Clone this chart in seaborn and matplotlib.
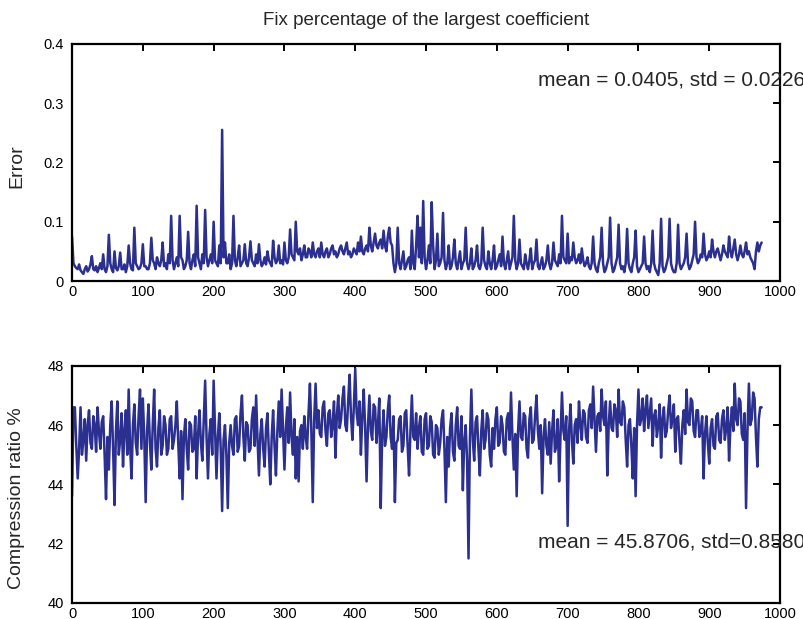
import numpy as np
import pandas as pd
import matplotlib
matplotlib.use("Agg")
import matplotlib.pyplot as plt
import seaborn as sns

# sample index (every 2nd frame)
frames = np.arange(0, 976, 2)

error_vals = [
    0.075, 0.03, 0.025, 0.022, 0.02, 0.028, 0.018, 0.015, 0.012, 0.02, 0.025, 0.016, 0.02, 0.028, 0.042, 0.02, 0.018, 0.025, 0.015, 0.022, 0.03, 0.02, 0.045, 0.02, 0.015,
    0.025, 0.078, 0.03, 0.02, 0.015, 0.05, 0.022, 0.018, 0.025, 0.048, 0.02, 0.02, 0.028, 0.015, 0.025, 0.06, 0.03, 0.02, 0.018, 0.09, 0.03, 0.025, 0.02, 0.022, 0.03,
    0.062, 0.025, 0.025, 0.02, 0.02, 0.03, 0.073, 0.035, 0.03, 0.02, 0.04, 0.03, 0.025, 0.035, 0.065, 0.025, 0.03, 0.02, 0.045, 0.03, 0.11, 0.035, 0.02, 0.03, 0.04,
    0.025, 0.11, 0.04, 0.035, 0.02, 0.025, 0.035, 0.083, 0.03, 0.02, 0.035, 0.045, 0.025, 0.127, 0.04, 0.03, 0.02, 0.045, 0.03, 0.12, 0.04, 0.025, 0.035, 0.045, 0.03,
    0.10, 0.035, 0.03, 0.025, 0.06, 0.03, 0.255, 0.04, 0.065, 0.03, 0.03, 0.045, 0.02, 0.03, 0.11, 0.035, 0.025, 0.04, 0.06, 0.025, 0.03, 0.035, 0.062, 0.03, 0.025,
    0.04, 0.067, 0.035, 0.03, 0.025, 0.045, 0.03, 0.062, 0.035, 0.025, 0.03, 0.04, 0.028, 0.05, 0.035, 0.03, 0.025, 0.068, 0.04, 0.03, 0.035, 0.06, 0.03, 0.035, 0.028,
    0.065, 0.035, 0.03, 0.04, 0.087, 0.045, 0.04, 0.035, 0.10, 0.05, 0.045, 0.055, 0.035, 0.045, 0.06, 0.04, 0.04, 0.055, 0.05, 0.04, 0.065, 0.045, 0.04, 0.05, 0.055,
    0.04, 0.065, 0.045, 0.04, 0.05, 0.055, 0.04, 0.045, 0.055, 0.06, 0.045, 0.05, 0.04, 0.045, 0.055, 0.06, 0.05, 0.045, 0.055, 0.065, 0.045, 0.05, 0.04, 0.045, 0.055,
    0.05, 0.045, 0.065, 0.05, 0.075, 0.05, 0.045, 0.055, 0.06, 0.05, 0.09, 0.06, 0.05, 0.065, 0.08, 0.06, 0.055, 0.065, 0.07, 0.055, 0.085, 0.06, 0.05, 0.075, 0.09,
    0.065, 0.06, 0.03, 0.015, 0.03, 0.09, 0.03, 0.02, 0.035, 0.05, 0.02, 0.025, 0.035, 0.04, 0.02, 0.085, 0.03, 0.02, 0.06, 0.11, 0.04, 0.09, 0.03, 0.135, 0.04,
    0.02, 0.035, 0.06, 0.03, 0.133, 0.06, 0.02, 0.035, 0.08, 0.025, 0.03, 0.04, 0.115, 0.035, 0.02, 0.03, 0.06, 0.02, 0.025, 0.04, 0.07, 0.03, 0.02, 0.035, 0.05,
    0.02, 0.03, 0.035, 0.09, 0.03, 0.02, 0.03, 0.055, 0.02, 0.025, 0.035, 0.06, 0.025, 0.02, 0.03, 0.09, 0.035, 0.025, 0.02, 0.05, 0.03, 0.02, 0.035, 0.06, 0.02,
    0.025, 0.035, 0.045, 0.025, 0.075, 0.03, 0.02, 0.035, 0.05, 0.02, 0.03, 0.04, 0.11, 0.035, 0.02, 0.03, 0.07, 0.03, 0.025, 0.02, 0.045, 0.03, 0.02, 0.035, 0.055,
    0.02, 0.03, 0.035, 0.07, 0.025, 0.02, 0.03, 0.04, 0.02, 0.025, 0.035, 0.06, 0.03, 0.02, 0.03, 0.065, 0.035, 0.03, 0.025, 0.045, 0.03, 0.11, 0.04, 0.035, 0.03,
    0.08, 0.03, 0.04, 0.035, 0.065, 0.04, 0.03, 0.035, 0.045, 0.03, 0.055, 0.035, 0.025, 0.03, 0.04, 0.025, 0.02, 0.03, 0.075, 0.03, 0.02, 0.015, 0.03, 0.04, 0.09,
    0.03, 0.015, 0.02, 0.03, 0.04, 0.107, 0.03, 0.015, 0.02, 0.03, 0.04, 0.095, 0.03, 0.02, 0.025, 0.015, 0.03, 0.088, 0.03, 0.02, 0.015, 0.03, 0.04, 0.085, 0.025,
    0.015, 0.02, 0.025, 0.03, 0.075, 0.03, 0.02, 0.025, 0.015, 0.03, 0.085, 0.03, 0.02, 0.015, 0.01, 0.03, 0.105, 0.025, 0.015, 0.02, 0.03, 0.04, 0.105, 0.03, 0.02,
    0.015, 0.015, 0.03, 0.095, 0.03, 0.02, 0.025, 0.03, 0.04, 0.08, 0.03, 0.02, 0.025, 0.035, 0.045, 0.10, 0.04, 0.03, 0.035, 0.045, 0.04, 0.08, 0.045, 0.035, 0.04,
    0.05, 0.04, 0.07, 0.05, 0.04, 0.05, 0.055, 0.045, 0.035, 0.045, 0.06, 0.05, 0.045, 0.04, 0.075, 0.05, 0.04, 0.055, 0.07, 0.045, 0.035, 0.045, 0.06, 0.045, 0.04,
    0.05, 0.065, 0.045, 0.05, 0.04, 0.035, 0.03, 0.02, 0.05, 0.065, 0.05, 0.06, 0.065,
]

ratio_vals = [
    43.6, 46.6, 46.6, 45.3, 44.2, 45.2, 46.6, 45.0, 45.5, 46.2, 44.8, 46.0, 46.5, 45.4, 45.2, 46.3, 46.0, 45.1, 46.6, 45.8, 45.2, 46.1, 46.3, 45.0, 43.5,
    45.6, 44.5, 46.0, 46.8, 45.2, 43.3, 45.8, 46.8, 45.0, 45.5, 46.4, 44.6, 45.8, 46.5, 45.0, 47.2, 45.3, 44.2, 46.0, 46.7, 45.4, 45.0, 46.3, 47.2, 45.2,
    46.9, 45.6, 43.4, 45.8, 46.7, 45.4, 44.5, 46.0, 47.2, 45.2, 44.6, 45.9, 46.5, 45.0, 45.3, 46.3, 46.0, 45.0, 45.2, 46.2, 46.3, 45.2, 45.5, 46.0, 46.8,
    45.4, 44.2, 45.8, 43.5, 45.6, 46.2, 45.2, 44.5, 46.1, 46.0, 45.1, 45.2, 46.3, 44.2, 45.7, 46.5, 45.4, 44.8, 46.2, 47.5, 45.6, 44.2, 45.7, 46.2, 45.0,
    47.5, 45.8, 44.2, 45.6, 46.4, 45.2, 43.1, 45.5, 46.0, 45.0, 43.2, 45.4, 46.0, 45.3, 45.0, 46.2, 46.3, 45.1, 45.3, 46.4, 47.0, 45.6, 44.8, 46.1, 46.0,
    45.1, 45.2, 46.2, 46.6, 45.3, 47.0, 45.5, 44.3, 45.7, 46.2, 45.2, 44.6, 45.9, 46.4, 45.1, 44.0, 45.6, 46.5, 45.3, 44.3, 45.8, 46.8, 45.6, 47.2, 45.8,
    44.5, 45.9, 46.6, 45.4, 47.1, 45.6, 45.0, 46.2, 44.2, 45.6, 44.1, 45.8, 46.0, 45.2, 46.3, 45.6, 45.2, 46.4, 47.4, 45.8, 43.4, 46.2, 47.4, 45.9, 46.5,
    45.7, 45.6, 46.6, 46.8, 45.8, 45.3, 46.4, 46.5, 45.6, 46.0, 46.8, 44.9, 46.3, 47.0, 45.9, 46.2, 46.9, 47.3, 46.0, 45.8, 46.8, 47.7, 46.3, 45.5, 46.6,
    47.9, 46.4, 46.0, 46.8, 45.0, 46.3, 47.2, 45.9, 44.1, 46.0, 47.0, 45.8, 45.5, 46.7, 46.6, 45.4, 46.0, 46.9, 43.2, 45.6, 46.5, 45.3, 45.6, 46.5, 47.0,
    45.6, 45.2, 46.3, 43.4, 45.4, 45.5, 46.2, 46.3, 45.1, 45.3, 46.4, 46.5, 45.3, 44.3, 45.8, 47.0, 45.6, 45.5, 46.4, 45.2, 45.9, 46.3, 45.1, 45.0, 46.2,
    46.4, 45.2, 45.3, 46.3, 46.1, 45.0, 44.9, 46.0, 45.9, 45.0, 45.4, 46.2, 46.5, 45.2, 43.4, 45.6, 44.6, 45.9, 46.4, 45.1, 44.8, 46.0, 46.6, 45.3, 45.2,
    46.3, 43.8, 45.5, 46.0, 44.8, 41.5, 45.6, 47.2, 45.5, 44.8, 46.1, 46.3, 45.2, 44.3, 45.8, 46.5, 45.2, 45.5, 46.4, 46.2, 45.0, 44.6, 45.9, 45.2, 46.2,
    46.6, 45.3, 45.4, 46.3, 46.0, 45.1, 45.0, 46.2, 46.4, 45.5, 47.1, 45.6, 44.5, 45.7, 43.6, 45.8, 46.8, 45.6, 45.5, 46.4, 46.3, 45.2, 44.9, 46.2, 46.6,
    45.4, 45.5, 46.3, 47.0, 45.8, 45.2, 46.0, 43.7, 45.6, 46.2, 45.3, 45.0, 46.1, 44.7, 45.8, 46.5, 45.1, 45.3, 46.2, 44.1, 45.7, 47.1, 45.8, 45.5, 46.3,
    42.6, 45.8, 46.7, 45.5, 44.7, 46.0, 46.2, 45.4, 46.8, 46.0, 45.5, 46.5, 46.4, 45.6, 45.4, 46.5, 46.7, 45.9, 47.3, 46.2, 45.1, 46.3, 46.4, 45.8, 47.2,
    46.3, 46.0, 46.8, 44.3, 46.0, 46.8, 45.9, 45.8, 46.7, 46.5, 45.6, 47.2, 46.1, 46.0, 46.8, 46.6, 45.5, 44.6, 46.0, 46.2, 45.3, 44.2, 45.9, 43.6, 46.0,
    47.2, 46.0, 46.2, 46.9, 45.8, 46.5, 47.0, 45.9, 46.4, 46.9, 45.3, 46.3, 46.5, 45.6, 46.0, 46.7, 44.9, 46.2, 46.6, 45.6, 45.8, 46.5, 47.0, 45.9, 46.2,
    46.7, 45.1, 46.2, 46.3, 45.4, 44.7, 46.0, 46.5, 45.7, 47.2, 46.1, 46.0, 46.9, 46.8, 45.8, 45.6, 46.5, 46.5, 45.6, 45.8, 46.3, 44.2, 45.7, 46.3, 45.4,
    44.7, 45.9, 46.2, 45.3, 45.2, 46.3, 46.4, 45.5, 45.4, 46.2, 46.5, 45.5, 45.9, 46.6, 44.8, 46.0, 46.6, 45.8, 47.4, 46.2, 46.0, 46.9, 46.8, 45.7, 45.5,
    46.4, 43.2, 45.8, 47.4, 46.0, 46.2, 47.1, 46.9, 45.6, 44.6, 46.2, 46.6, 46.6,
]

title_text = "Fix percentage of the largest coefficient"
err_note = "mean = 0.0405, std = 0.0226"
ratio_note = "mean = 45.8706, std=0.8580"

df = pd.DataFrame({"frame": frames, "error": error_vals, "ratio": ratio_vals})

sns.set_style("white")
plt.rcParams["font.family"] = ["Liberation Sans", "DejaVu Sans"]

line_color = "#2b2f8f"
fig = plt.figure(figsize=(8.04, 6.19), dpi=100)
ax1 = fig.add_axes([0.0896, 0.546, 0.8806, 0.383])
ax2 = fig.add_axes([0.0896, 0.026, 0.8806, 0.383])

sns.lineplot(data=df, x="frame", y="error", ax=ax1, color=line_color, linewidth=1.8)
sns.lineplot(data=df, x="frame", y="ratio", ax=ax2, color=line_color, linewidth=1.8)

ax1.set_ylim(0, 0.4)
ax1.set_yticks([0, 0.1, 0.2, 0.3, 0.4])
ax1.set_yticklabels(["0", "0.1", "0.2", "0.3", "0.4"])
ax2.set_ylim(40, 48)
ax2.set_yticks([40, 42, 44, 46, 48])

for ax in (ax1, ax2):
    ax.set_xlim(0, 1000)
    ax.set_xticks(range(0, 1001, 100))
    ax.set_xlabel("")
    for s in ax.spines.values():
        s.set_visible(True)
        s.set_color("black")
        s.set_linewidth(1.6)
    ax.tick_params(direction="in", length=5, width=1.4, top=True, right=True,
                   labelsize=10.5, colors="black")
    ax.tick_params(axis="x", pad=3)
    ax.tick_params(axis="y", pad=6)

ax1.set_ylabel("Error", fontsize=14)
ax2.set_ylabel("Compression ratio %", fontsize=14)
ax1.yaxis.set_label_coords(-0.066, 0.485)
ax2.yaxis.set_label_coords(-0.066, 0.44)
ax1.set_title(title_text, fontsize=13.5, pad=14)

ax1.text(658, 0.34, err_note, fontsize=15, va="center", ha="left")
ax2.text(658, 42.05, ratio_note, fontsize=15, va="center", ha="left")

fig.savefig("out.png", dpi=100)
